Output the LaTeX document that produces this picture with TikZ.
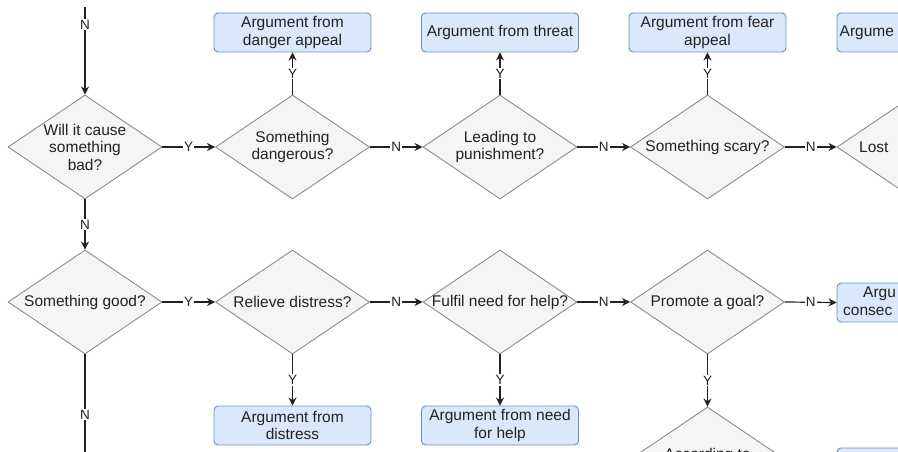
\documentclass[tikz,border=0pt]{standalone}
\usepackage{fontspec}
\setmainfont{Liberation Sans}
\usetikzlibrary{shapes.geometric,arrows.meta}
\definecolor{boxfill}{HTML}{DAE8FC}
\definecolor{boxline}{HTML}{6C8EBF}
\definecolor{diafill}{HTML}{F5F5F5}
\definecolor{dialine}{HTML}{8C8C8C}
\definecolor{ink}{HTML}{222222}
\begin{document}
\begin{tikzpicture}[x=1pt,y=-1pt,
  dia/.style={diamond, draw=dialine, fill=diafill, line width=0.9pt,
    minimum width=154pt, minimum height=104pt, inner sep=0pt},
  txt/.style={align=center, inner sep=0pt, text=ink,
    font=\fontsize{15.5}{17.5}\selectfont},
  box/.style={rectangle, rounded corners=4pt, draw=boxline, fill=boxfill,
    line width=0.9pt, minimum width=157pt, minimum height=39pt,
    inner sep=0pt, align=center, text=ink,
    font=\fontsize{15.5}{17.5}\selectfont},
  arr/.style={-{Stealth[length=8pt,width=8pt,inset=2.5pt]}, line width=1.2pt, draw=ink},
  plain/.style={line width=1.2pt, draw=ink},
  lab/.style={fill=white, inner sep=1.2pt, text=ink,
    font=\fontsize{13.5}{14}\selectfont}
]
\useasboundingbox (0,0) rectangle (898,452);
\clip (0,0) rectangle (898,452);
\fill[white] (0,0) rectangle (898,452);

% ---- row 1 diamonds
\node[dia] (d1) at (85,147) {};
\node[txt] (t1) at (d1) {Will it cause\\something\\bad?};
\node[dia] (d2) at (292.5,147) {};
\node[txt] (t2) at (d2) {Something\\dangerous?};
\node[dia] (d3) at (500,147) {};
\node[txt] (t3) at (d3) {Leading to\\punishment?};
\node[dia] (d4) at (707.5,147) {};
\node[txt] (t4) at (d4) {Something scary?};
\node[dia] (d5) at (914,147) {};
\node[txt, anchor=west] (t5) at (859,147) {Lost};

% ---- row 1 boxes
\node[box] (b1) at (292.5,32.5) {Argument from\\danger appeal};
\node[box] (b2) at (500,32.5) {Argument from threat};
\node[box] (b3) at (707.5,32.5) {Argument from fear\\appeal};
\node[box] (b4) at (915.5,32.5) {};
\node[txt, anchor=west] (t4b) at (839.5,32.5) {Argume};

% ---- row 2 diamonds
\node[dia] (e1) at (85,302) {};
\node[txt] (s1) at (e1) {Something good?};
\node[dia] (e2) at (292.5,302) {};
\node[txt] (s2) at (e2) {Relieve distress?};
\node[dia] (e3) at (500,302) {};
\node[txt] (s3) at (e3) {Fulfil need for help?};
\node[dia] (e4) at (707.5,302) {};
\node[txt] (s4) at (e4) {Promote a goal?};

% ---- row 2 boxes
\node[box] (c1) at (292.5,425.5) {Argument from\\distress};
\node[box] (c2) at (500,425.5) {Argument from need\\for help};
\node[box] (c3) at (915.5,302.5) {};
\node[txt, anchor=west] (u3a) at (863,293.5) {Argu};
\node[txt, anchor=west] (u3b) at (843,311.5) {consec};
\node[box] (c4) at (915.5,467.5) {};

% ---- row 3 diamond
\node[dia] (f1) at (707.5,459) {};
\node[txt, anchor=base] (g1) at (707.5,459) {According to};

% ---- connectors
\coordinate (in) at (85,7);
\coordinate (out) at (85,470);
\draw[arr] (in) -- node[lab,pos=0.2]{N} (d1.north);
\draw[arr] (d1.east) -- node[lab]{Y} (d2.west);
\draw[arr] (d2.east) -- node[lab]{N} (d3.west);
\draw[arr] (d3.east) -- node[lab]{N} (d4.west);
\draw[arr] (d4.east) -- node[lab]{N} (d5.west);
\draw[arr] (d2.north) -- node[lab]{Y} (b1.south);
\draw[arr] (d3.north) -- node[lab]{Y} (b2.south);
\draw[arr] (d4.north) -- node[lab]{Y} (b3.south);
\draw[arr] (d1.south) -- node[lab]{N} (e1.north);
\draw[arr] (e1.east) -- node[lab]{Y} (e2.west);
\draw[arr] (e2.east) -- node[lab]{N} (e3.west);
\draw[arr] (e3.east) -- node[lab]{N} (e4.west);
\draw[arr] (e4.east) -- node[lab]{N} (c3.west);
\draw[arr] (e2.south) -- node[lab]{Y} (c1.north);
\draw[arr] (e3.south) -- node[lab]{Y} (c2.north);
\draw[arr] (e4.south) -- node[lab]{Y} (f1.north);
\draw[plain] (e1.south) -- node[lab,pos=0.52]{N} (out);
\end{tikzpicture}
\end{document}
